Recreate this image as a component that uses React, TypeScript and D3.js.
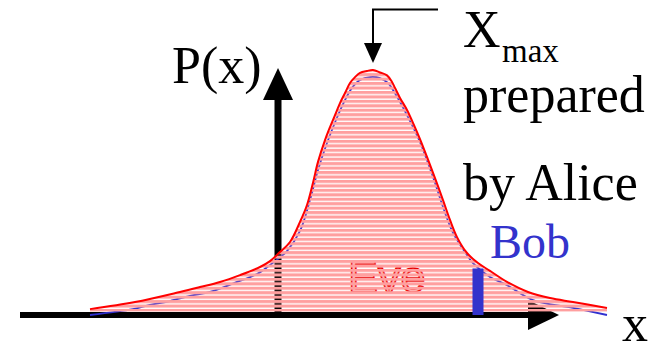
import React from "react";
import * as d3 from "d3";

// Distribution P(x): outer (red) envelope and inner (blue) curve
const redX = [-3.76, -2.86, -1.96, -1.56, -1.16, -0.76, -0.36, -0.16, 0.04, 0.24, 0.44, 0.58, 0.7, 0.8, 0.94, 1.04, 1.14, 1.24, 1.34, 1.44, 1.54, 1.64, 1.78, 1.9, 2.04, 2.18, 2.28, 2.34, 2.44, 2.58, 2.7, 2.84, 2.98, 3.14, 3.3, 3.44, 3.58, 3.78, 4.0, 4.24, 4.58, 5.0, 5.44, 5.9, 6.58];
const redP = [0.024, 0.053, 0.094, 0.114, 0.135, 0.163, 0.196, 0.22, 0.257, 0.298, 0.38, 0.449, 0.54, 0.625, 0.714, 0.767, 0.816, 0.865, 0.906, 0.947, 0.971, 0.988, 0.996, 1.0, 0.99, 0.978, 0.951, 0.927, 0.886, 0.837, 0.784, 0.718, 0.645, 0.559, 0.469, 0.388, 0.318, 0.253, 0.212, 0.18, 0.135, 0.094, 0.069, 0.053, 0.029];

const blueX = [-3.76, -2.9, -2.56, -2.16, -1.76, -1.36, -0.82, -0.42, -0.16, 0.0, 0.18, 0.44, 0.64, 0.8, 0.98, 1.16, 1.32, 1.48, 1.64, 1.84, 2.04, 2.2, 2.36, 2.58, 2.84, 3.1, 3.3, 3.5, 3.74, 3.9, 4.24, 4.58, 5.1, 5.9, 6.58];
const blueP = [0.0, 0.024, 0.041, 0.057, 0.078, 0.094, 0.135, 0.167, 0.204, 0.229, 0.261, 0.343, 0.469, 0.592, 0.702, 0.796, 0.869, 0.927, 0.959, 0.971, 0.967, 0.947, 0.898, 0.816, 0.706, 0.563, 0.441, 0.335, 0.257, 0.212, 0.155, 0.122, 0.061, 0.029, 0.0];

// Bob's measurement marker
const bobX = [4.0];
const bobP = [0.19];

// Peak position marked by the annotation arrow
const peakX = 1.9;

const W = 662;
const H = 347;

const serif = { fontFamily: '"Liberation Serif", "DejaVu Serif", "Times New Roman", serif' };
const sans = { fontFamily: '"Liberation Sans", "DejaVu Sans", Arial, sans-serif' };

export default function App() {
  const xs = d3.scaleLinear().domain([-5, 6]).range([28, 578]);
  const ys = d3.scaleLinear().domain([0, 1]).range([315, 70]);

  const red = redX.map((x, i) => [x, redP[i]] as [number, number]);
  const blue = blueX.map((x, i) => [x, blueP[i]] as [number, number]);

  const line = d3
    .line<[number, number]>()
    .x((d) => xs(d[0]))
    .y((d) => ys(d[1]))
    .curve(d3.curveCatmullRom.alpha(0.5));

  const area = d3
    .area<[number, number]>()
    .x((d) => xs(d[0]))
    .y0(ys(0) - 3.5)
    .y1((d) => ys(d[1]))
    .curve(d3.curveCatmullRom.alpha(0.5));

  const x0 = xs(0);
  const y0 = ys(0);
  const axLeft = xs(-5.16);
  const axRight = xs(5.62);
  const axTop = ys(1.008);
  const px = xs(peakX);

  return (
    <svg
      width={W}
      height={H}
      style={{ position: "absolute", left: 0, top: 0, background: "#fff" }}
    >
      <defs>
        <pattern id="hstripes" patternUnits="userSpaceOnUse" width={W} height={4.45} y={1.95}>
          <rect x={0} y={0} width={W} height={3.1} fill="#ff9f9f" />
        </pattern>
        <clipPath id="under-curve">
          <path d={area(red) || ""} />
        </clipPath>
      </defs>

      {/* axes */}
      <rect x={axLeft} y={y0 - 3} width={axRight - 31 - axLeft} height={6} fill="#000" />
      <path d={`M${axRight},${y0} L${axRight - 31},${y0 - 15} L${axRight - 31},${y0 + 15} Z`} fill="#000" />
      <rect x={x0 - 3.5} y={axTop + 31} width={7} height={y0 + 3 - (axTop + 31)} fill="#000" />
      <path d={`M${x0},${axTop} L${x0 - 15},${axTop + 32} L${x0 + 15},${axTop + 32} Z`} fill="#000" />

      {/* Eve sits beneath the striped fill */}
      <text
        x={348}
        y={292}
        style={sans}
        fontSize={45}
        fill="#ffb4b4"
        stroke="#e80000"
        strokeWidth={1.6}
      >
        Eve
      </text>

      {/* inner curve */}
      <path d={line(blue) || ""} fill="none" stroke="#3030d0" strokeWidth={1.8} />

      {/* striped fill under the envelope */}
      <rect x={0} y={0} width={W} height={H} fill="url(#hstripes)" clipPath="url(#under-curve)" />

      {/* envelope */}
      <path d={line(red) || ""} fill="none" stroke="#ff0000" strokeWidth={2} />

      {/* Bob marker */}
      {bobX.map((b, i) => (
        <rect key={i} x={xs(b) - 5.5} y={ys(bobP[i])} width={11} height={y0 - ys(bobP[i])} fill="#3333cc" />
      ))}

      {/* annotation arrow toward the peak */}
      <path d={`M${px + 65},9.5 L${px},9.5 L${px},44`} fill="none" stroke="#000" strokeWidth={2} />
      <path d={`M${px},63 L${px - 9},43 L${px + 9},43 Z`} fill="#000" />

      {/* labels */}
      <text x={172} y={83} style={serif} fontSize={52} fill="#000">P(x)</text>
      <text x={463} y={47} style={serif} fontSize={52} fill="#000">X</text>
      <text x={502} y={62} style={serif} fontSize={33} fill="#000">max</text>
      <text x={463} y={112} style={serif} fontSize={52} fill="#000">prepared</text>
      <text x={463} y={200} style={serif} fontSize={52} fill="#000">by Alice</text>
      <text x={490} y={258} style={serif} fontSize={48} fill="#3333cc">Bob</text>
      <text x={622} y={341} style={serif} fontSize={52} fill="#000">x</text>
    </svg>
  );
}
